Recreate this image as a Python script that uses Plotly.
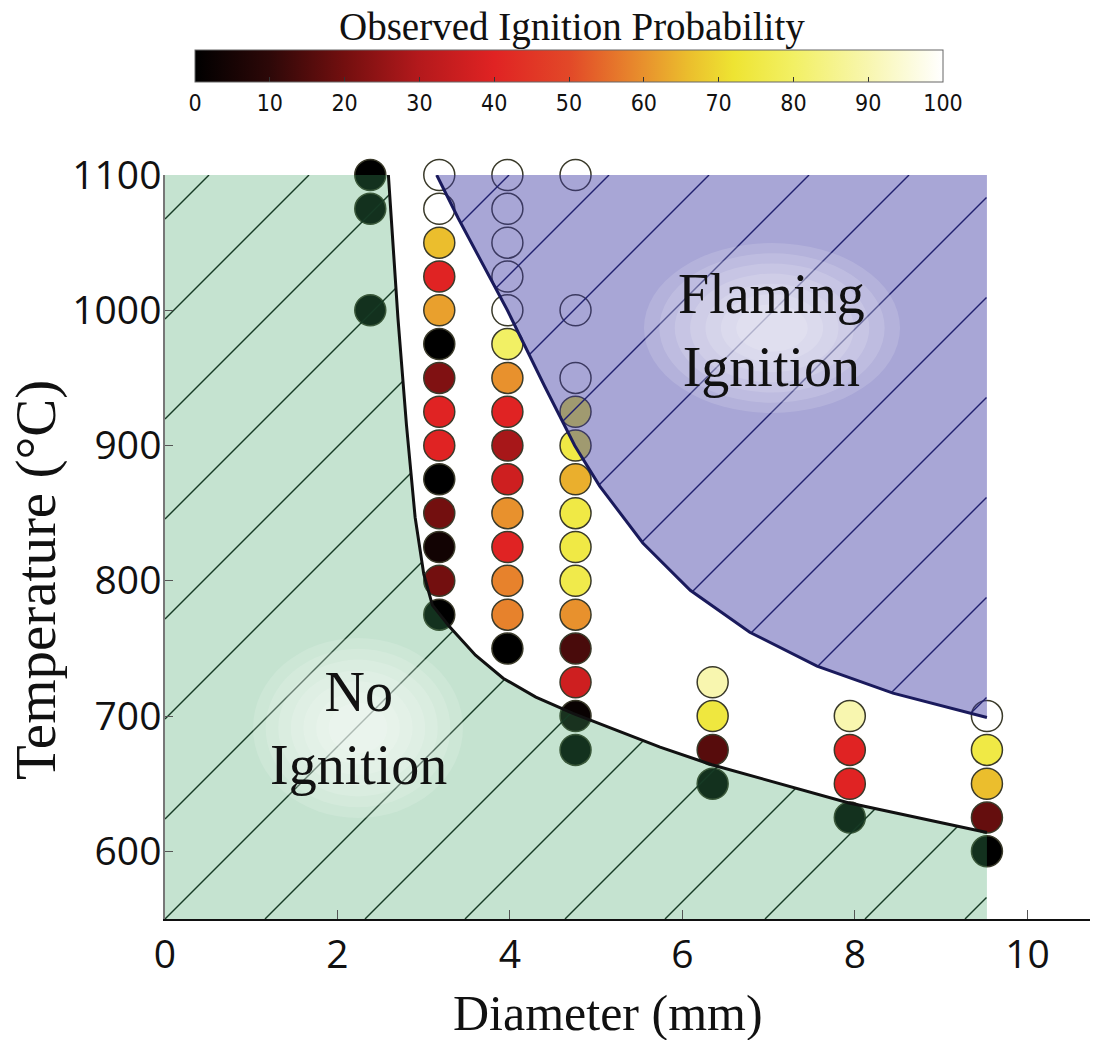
import numpy as np
import plotly.graph_objects as go

# ---------------- data ----------------
diam_238 = 2.38
temps_238 = [1100, 1075, 1000]
prob_238 = [0, 0, 0]

diam_318 = 3.18
temps_318 = [1100, 1075, 1050, 1025, 1000, 975, 950, 925, 900, 875, 850, 825, 800, 775]
prob_318 = [100, 100, 66, 40, 62, 0, 22, 40, 40, 0, 20, 4, 20, 0]

diam_397 = 3.97
temps_397 = [1100, 1075, 1050, 1025, 1000, 975, 950, 925, 900, 875, 850, 825, 800, 775, 750]
prob_397 = [100, 100, 100, 100, 100, 80, 60, 40, 28, 36, 60, 40, 58, 58, 0]

diam_476 = 4.76
temps_476 = [1100, 1000, 950, 925, 900, 875, 850, 825, 800, 775, 750, 725, 700, 675]
prob_476 = [100, 100, 100, 75, 75, 64, 75, 75, 76, 60, 14, 36, 2, 0]

diam_635 = 6.35
temps_635 = [725, 700, 675, 650]
prob_635 = [90, 74, 16, 0]

diam_794 = 7.94
temps_794 = [700, 675, 650, 625]
prob_794 = [90, 40, 40, 0]

diam_953 = 9.53
temps_953 = [700, 675, 650, 625, 600]
prob_953 = [100, 75, 66, 18, 0]

# no-ignition boundary (black curve)
noig_x = [2.59, 2.70, 2.80, 2.90, 3.00, 3.10, 3.30, 3.60, 3.92, 4.30, 4.73, 5.74, 6.34, 7.92, 9.53]
noig_t = [1100, 995, 915, 847, 805, 782, 766, 745, 728, 714, 702, 677, 664, 636, 614]

# flaming-ignition boundary (blue curve)
flame_x = [3.15, 3.40, 3.97, 4.40, 4.75, 5.04, 5.54, 6.09, 6.78, 7.56, 8.44, 9.53]
flame_t = [1100, 1068, 1000, 944, 900, 870, 828, 793, 762, 737, 717, 699]

x_ticks = [0, 2, 4, 6, 8, 10]
y_ticks = [600, 700, 800, 900, 1000, 1100]
cbar_ticks = [0, 10, 20, 30, 40, 50, 60, 70, 80, 90, 100]

# ---------------- layout constants ----------------
W, H = 1106, 1040
L, R, T, B = 165, 16, 175, 121
XR = [0, 10.725]
YR = [550, 1100]
PW, PH = W - L - R, H - T - B


def px2x(px):
    return XR[0] + (px - L) / PW * (XR[1] - XR[0])


def py2t(py):
    return YR[1] - (py - T) / PH * (YR[1] - YR[0])


def pxp(px):
    return (px - L) / PW


def pyp(py):
    return (H - B - py) / PH


colorscale = [
    [0.00, "rgb(0,0,0)"],
    [0.10, "rgb(45,8,8)"],
    [0.20, "rgb(115,15,15)"],
    [0.30, "rgb(180,25,28)"],
    [0.40, "rgb(224,35,35)"],
    [0.50, "rgb(226,72,40)"],
    [0.60, "rgb(232,145,45)"],
    [0.66, "rgb(235,190,45)"],
    [0.72, "rgb(238,228,50)"],
    [0.80, "rgb(242,240,100)"],
    [0.90, "rgb(248,246,175)"],
    [1.00, "rgb(255,255,255)"],
]

all_x, all_t, all_p = [], [], []
for d, ts, ps in [
    (diam_238, temps_238, prob_238),
    (diam_318, temps_318, prob_318),
    (diam_397, temps_397, prob_397),
    (diam_476, temps_476, prob_476),
    (diam_635, temps_635, prob_635),
    (diam_794, temps_794, prob_794),
    (diam_953, temps_953, prob_953),
]:
    all_x += [d] * len(ts)
    all_t += ts
    all_p += ps

fig = go.Figure()

fig.add_trace(go.Scatter(
    x=all_x, y=all_t, mode="markers", cliponaxis=False, showlegend=False,
    hoverinfo="skip",
    marker=dict(
        size=31, color=all_p, colorscale=colorscale, cmin=0, cmax=100,
        line=dict(color="#3a3a2a", width=1.5),
        showscale=True,
        colorbar=dict(
            orientation="h", x=pxp(569), xanchor="center",
            y=pyp(50), yanchor="top", ypad=0, xpad=0,
            len=748, lenmode="pixels", thickness=32,
            outlinewidth=1, outlinecolor="#666",
            tickvals=cbar_ticks, ticks="inside", ticklen=5, tickcolor="#333",
            tickfont=dict(family="DejaVu Sans Condensed, Liberation Sans Narrow, Liberation Sans, sans-serif",
                          size=23, color="#111"),
        ),
    ),
))

# green (no ignition) region
xmax = diam_953
g_x = [0, 0] + noig_x + [xmax]
g_t = [YR[0], YR[1]] + noig_t + [YR[0]]
fig.add_trace(go.Scatter(x=g_x, y=g_t, mode="lines", fill="toself",
                         fillcolor="rgba(62,162,98,0.30)", line=dict(width=0),
                         showlegend=False, hoverinfo="skip"))

# blue (flaming) region
b_x = flame_x + [xmax]
b_t = flame_t + [YR[1]]
fig.add_trace(go.Scatter(x=b_x, y=b_t, mode="lines", fill="toself",
                         fillcolor="rgba(62,57,164,0.45)", line=dict(width=0),
                         showlegend=False, hoverinfo="skip"))


# hatch lines
def hatch(inside):
    hx, ht = [], []
    xs_px = np.arange(L, L + PW + 0.5, 0.5)
    for k in range(-10, 12):
        c = 1084 + 100 * k
        ys_px = c - xs_px
        xd = px2x(xs_px)
        td = py2t(ys_px)
        m = inside(xd, td) & (ys_px >= T) & (ys_px <= T + PH)
        if not m.any():
            continue
        idx = np.where(m)[0]
        splits = np.where(np.diff(idx) > 1)[0]
        starts = np.r_[idx[0], idx[splits + 1]]
        ends = np.r_[idx[splits], idx[-1]]
        for s, e in zip(starts, ends):
            hx += [xd[s], xd[e], None]
            ht += [td[s], td[e], None]
    return hx, ht


def in_green(x, t):
    bound = np.where(x < noig_x[0], YR[1], np.interp(x, noig_x, noig_t))
    return (x >= 0) & (x <= xmax) & (t >= YR[0]) & (t <= bound)


def in_blue(x, t):
    bound = np.interp(x, flame_x, flame_t)
    return (x >= flame_x[0]) & (x <= xmax) & (t <= YR[1]) & (t >= bound)


hx, ht = hatch(in_green)
fig.add_trace(go.Scatter(x=hx, y=ht, mode="lines", line=dict(color="#173b25", width=1.4),
                         showlegend=False, hoverinfo="skip"))
hx, ht = hatch(in_blue)
fig.add_trace(go.Scatter(x=hx, y=ht, mode="lines", line=dict(color="#20206e", width=1.4),
                         showlegend=False, hoverinfo="skip"))

# boundary curves
fig.add_trace(go.Scatter(x=noig_x, y=noig_t, mode="lines", line=dict(color="#111", width=3),
                         showlegend=False, hoverinfo="skip"))
fig.add_trace(go.Scatter(x=flame_x, y=flame_t, mode="lines", line=dict(color="#1a1a5c", width=3),
                         showlegend=False, hoverinfo="skip"))

# soft white glow behind region labels
shapes = []
for (cx, cy, rx, ry) in [(358, 728, 105, 90), (772, 328, 128, 85)]:
    for i in range(7):
        f = 1.0 - i * 0.12
        shapes.append(dict(
            type="circle", xref="paper", yref="paper", layer="above",
            x0=pxp(cx - rx * f), x1=pxp(cx + rx * f),
            y0=pyp(cy + ry * f), y1=pyp(cy - ry * f),
            fillcolor="rgba(255,255,255,0.14)", line=dict(width=0),
        ))

serif = "Liberation Serif, Times New Roman, serif"


def ann(text, px, py, size, angle=0):
    return dict(text=text, x=pxp(px), y=pyp(py), xref="paper", yref="paper",
                xanchor="center", yanchor="middle", showarrow=False, textangle=angle,
                align="center", font=dict(family=serif, size=size, color="#111"))


annotations = [
    ann("No<br>Ignition", 358, 728, 56),
    ann("Flaming<br>Ignition", 771, 330, 56),
    ann("Temperature (°C)", 36, 580, 57, -90),
    ann("Diameter (mm)", 608, 1013, 50),
    ann("Observed Ignition Probability", 572, 27, 39),
]

fig.update_layout(
    width=W, height=H,
    margin=dict(l=L, r=R, t=T, b=B),
    paper_bgcolor="white", plot_bgcolor="white",
    shapes=shapes, annotations=annotations,
    xaxis=dict(range=XR, tickvals=x_ticks, ticks="inside", ticklen=9, tickcolor="#555",
               showgrid=False, zeroline=False, showline=True, linecolor="#111", linewidth=2,
               tickfont=dict(family="Open Sans, DejaVu Sans, sans-serif", size=39, color="#111"),
               ticklabelstandoff=0),
    yaxis=dict(range=YR, tickvals=y_ticks, ticks="inside", ticklen=8, tickcolor="#555",
               showgrid=False, zeroline=False, showline=True, linecolor="#777", linewidth=1.5,
               tickfont=dict(family="Open Sans, DejaVu Sans, sans-serif", size=39, color="#111"),
               ticklabelstandoff=-6),
)

fig.write_html("out.html")
